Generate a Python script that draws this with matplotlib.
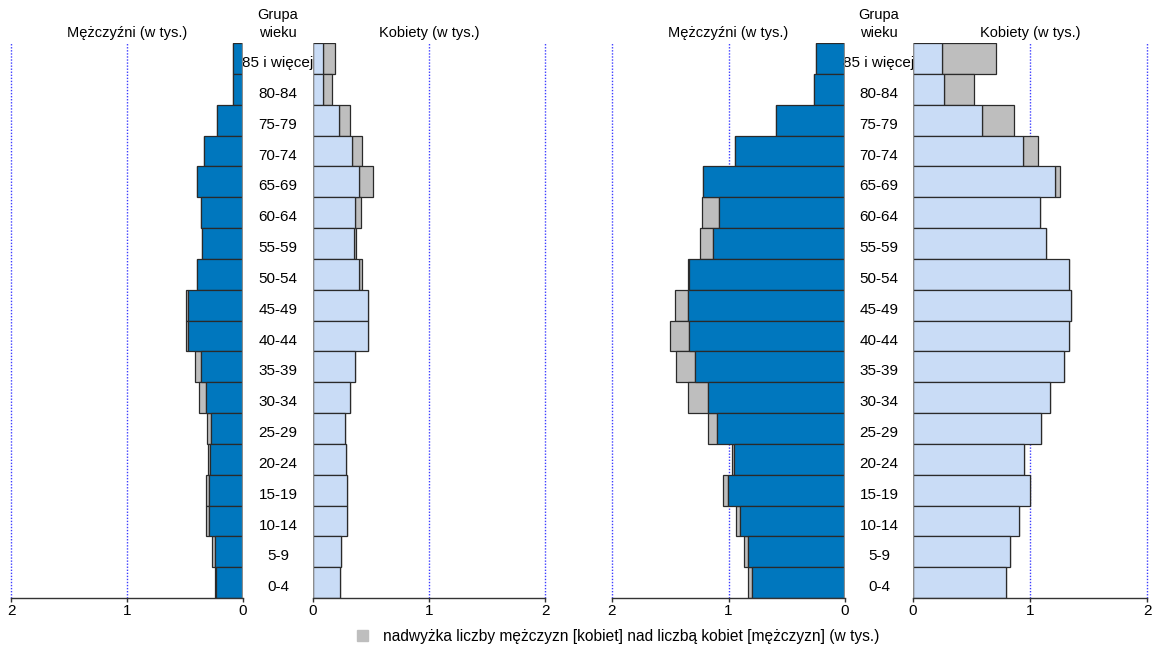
import matplotlib.pyplot as plt
import matplotlib.transforms as mtransforms
from matplotlib.patches import Rectangle
import numpy as np

plt.rcParams['font.family'] = ['Liberation Sans', 'DejaVu Sans']

# age groups, top to bottom
groups = ['85 i więcej', '80-84', '75-79', '70-74', '65-69', '60-64', '55-59',
          '50-54', '45-49', '40-44', '35-39', '30-34', '25-29', '20-24',
          '15-19', '10-14', '5-9', '0-4']

# left pyramid (w tys.)
men_a = [0.084, 0.084, 0.22, 0.335, 0.395, 0.365, 0.355, 0.40, 0.494,
         0.494, 0.416, 0.382, 0.31, 0.305, 0.318, 0.318, 0.265, 0.243]
women_a = [0.19, 0.166, 0.32, 0.425, 0.52, 0.41, 0.37, 0.42, 0.478,
           0.478, 0.362, 0.323, 0.272, 0.285, 0.295, 0.295, 0.244, 0.23]

# right pyramid (w tys.)
men_b = [0.246, 0.263, 0.59, 0.94, 1.216, 1.227, 1.242, 1.345, 1.456,
         1.50, 1.448, 1.345, 1.18, 0.973, 1.047, 0.938, 0.87, 0.835]
women_b = [0.707, 0.524, 0.866, 1.071, 1.26, 1.083, 1.134, 1.335, 1.35,
           1.335, 1.29, 1.174, 1.097, 0.951, 1.003, 0.903, 0.832, 0.795]

ticks = [0, 1, 2]

c_men = '#0077be'
c_women = '#c9dcf6'
c_extra = '#bebebe'
c_edge = '#2a2a2a'

W, H = 1156, 650
fig = plt.figure(figsize=(W / 100, H / 100), dpi=100)

def px_axes(x0, x1, y0=43, y1=598):
    return fig.add_axes([x0 / W, 1 - y1 / H, (x1 - x0) / W, (y1 - y0) / H])

def side(ax, base, total, color, invert):
    n = len(groups)
    y = n - 1 - np.arange(n)
    base = np.asarray(base)
    total = np.asarray(total)
    common = np.minimum(base, total)
    extra = base - common
    ax.barh(y, extra, left=common, height=1.0, color=c_extra,
            edgecolor=c_edge, linewidth=0.9, zorder=2)
    ax.barh(y, common, height=1.0, color=color, edgecolor=c_edge,
            linewidth=0.9, zorder=3)
    ax.set_xlim(0, 2)
    if invert:
        ax.invert_xaxis()
    ax.set_ylim(-0.5, n - 0.5)
    for v in [1, 2]:
        ax.axvline(v, color='#3c3cff', linestyle=(0, (1, 1.2)), linewidth=1.0,
                   zorder=1, clip_on=False)
    ax.axvline(0, color='#8c8c8c', linewidth=1.6, zorder=4)
    for s in ['top', 'left', 'right']:
        ax.spines[s].set_visible(False)
    ax.spines['bottom'].set_color('#333333')
    ax.spines['bottom'].set_linewidth(1.0)
    ax.spines['bottom'].set_zorder(5)
    ax.set_yticks([])
    ax.set_xticks(ticks)
    ax.set_xticklabels([str(t) for t in ticks], fontsize=11)
    ax.tick_params(axis='x', length=3, width=1, color='#333333', pad=1)

def pyramid(xm0, xm1, xw0, xw1, men, women):
    axm = px_axes(xm0, xm1)
    axw = px_axes(xw0, xw1)
    side(axm, men, women, c_men, True)
    side(axw, women, men, c_women, False)
    xc = (xm1 + xw0) / 2 / W
    tr = mtransforms.blended_transform_factory(fig.transFigure, axm.transData)
    n = len(groups)
    for i, g in enumerate(groups):
        axm.text(xc, n - 1 - i - 0.15, g, transform=tr, ha='center',
                 va='center', fontsize=11, clip_on=False)
    fig.text(xc, 1 - 15 / H, 'Grupa', ha='center', va='center', fontsize=10.5)
    fig.text(xc, 1 - 33 / H, 'wieku', ha='center', va='center', fontsize=10.5)
    fig.text((xm0 + xm1) / 2 / W, 1 - 33 / H, 'Mężczyźni (w tys.)',
             ha='center', va='center', fontsize=10.5)
    fig.text((xw0 + xw1) / 2 / W, 1 - 33 / H, 'Kobiety (w tys.)',
             ha='center', va='center', fontsize=10.5)

pyramid(11, 243, 313, 545, men_a, women_a)
pyramid(612, 845, 913, 1147, men_b, women_b)

# legend
fig.patches.append(Rectangle((357 / W, 1 - 641 / H), 11 / W, 11 / H,
                             transform=fig.transFigure, color=c_extra))
fig.text(383 / W, 1 - 636 / H,
         'nadwyżka liczby mężczyzn [kobiet] nad liczbą kobiet [mężczyzn] (w tys.)',
         ha='left', va='center', fontsize=11.2)

fig.savefig('out.png', dpi=100)
